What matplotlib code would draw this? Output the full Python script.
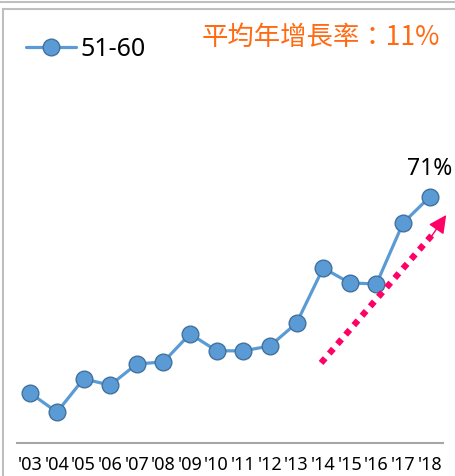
import numpy as np
import matplotlib
matplotlib.use("Agg")
import matplotlib.pyplot as plt
from matplotlib.lines import Line2D

plt.rcParams['font.family'] = ['Noto Sans', 'Noto Sans CJK TC', 'DejaVu Sans']

years = ["'03", "'04", "'05", "'06", "'07", "'08", "'09", "'10",
         "'11", "'12", "'13", "'14", "'15", "'16", "'17", "'18"]
share_51_60 = [14.4, 8.9, 18.5, 16.7, 22.8, 23.4, 31.5, 26.6,
               26.6, 28.0, 34.6, 50.5, 46.2, 45.9, 63.5, 71.0]
series_name = "51-60"
growth_note = "平均年增長率：11%"

W, H = 455, 476
fig = plt.figure(figsize=(W / 100, H / 100), dpi=100)

# plot area: x from 17 to 443 px, baseline at y=443 px
ax = fig.add_axes([17 / W, (H - 443) / H, 426 / W, 423 / H])
x = np.arange(len(years))
line, = ax.plot(x, share_51_60, color='#5B9BD5', lw=2.3, marker='o',
                markersize=12, markerfacecolor='#5B9BD5',
                markeredgecolor='#41719C', markeredgewidth=1.0,
                solid_capstyle='round', zorder=3)

ax.set_xlim(-0.5, len(years) - 0.5)
ax.set_ylim(0, 423 / 3.465)
for s in ['top', 'right', 'left']:
    ax.spines[s].set_visible(False)
ax.spines['bottom'].set_color('#A6A6A6')
ax.spines['bottom'].set_linewidth(1.5)
ax.set_yticks([])
ax.set_xticks(x)
ax.set_xticklabels(years, fontsize=13)
ax.tick_params(axis='x', length=0, pad=9)

# last value label
ax.text(x[-1], share_51_60[-1] + 4.5, "71%", ha='center', va='bottom',
        fontsize=16.5, color='black')

# trend arrow: square-dotted shaft + solid head
ax.plot([10.92, 15.2], [23.1, 61.0], color='#FF0066', lw=4.5,
        linestyle=(0, (1, 1.0)), dash_capstyle='butt', clip_on=False, zorder=4)
ax.annotate("", xy=(15.62, 65.8), xytext=(15.0, 58.9), annotation_clip=False,
            arrowprops=dict(arrowstyle='-|>,head_length=1.1,head_width=0.55',
                            color='#FF0066', lw=1, shrinkA=0, shrinkB=0),
            zorder=4)

# legend
leg = fig.legend([line], [series_name], loc='upper left',
                 bbox_to_anchor=(3 / W, 1 - 14 / H), frameon=False,
                 fontsize=18, handlelength=2.0, handletextpad=0.2)

fig.text(202 / W, 1 - 37 / H, growth_note, color='#FF6A13', fontsize=19,
         family=['Noto Sans CJK TC', 'DejaVu Sans'], va='center', ha='left')

# outer frame lines
fig.add_artist(Line2D([0, 1], [1 - 1.5 / H, 1 - 1.5 / H], color='#BFBFBF', lw=1.5))
fig.add_artist(Line2D([2.5 / W, 1], [1 - 8.5 / H, 1 - 8.5 / H], color='#BFBFBF', lw=1.5))
fig.add_artist(Line2D([2.5 / W, 2.5 / W], [0, 1 - 8.5 / H], color='#BFBFBF', lw=1.5))

fig.savefig("out.png", dpi=100)
